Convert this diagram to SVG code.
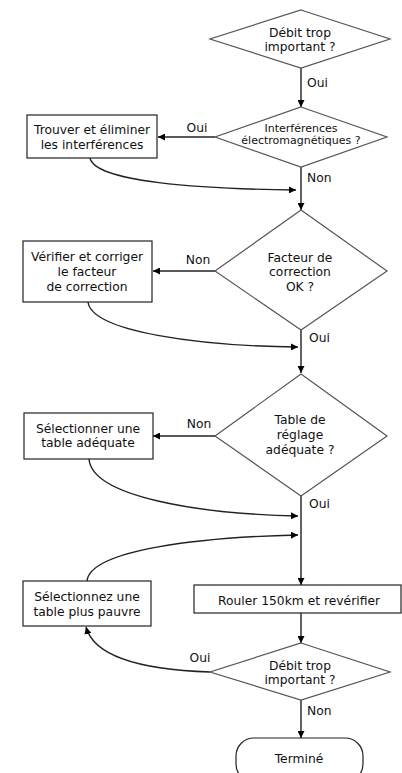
<svg xmlns="http://www.w3.org/2000/svg" width="402" height="773" viewBox="0 0 402 773">
<style>
text{font-family:"DejaVu Sans","Liberation Sans",sans-serif;font-size:12.3px;fill:#111;text-anchor:middle}
.lbl{text-anchor:start}
.c{text-anchor:middle}
.small{font-size:11px}
.box{fill:#fff;stroke:#222;stroke-width:1.2}
.dia{fill:#fff;stroke:#555;stroke-width:1.2}
.ln{fill:none;stroke:#222;stroke-width:1.4}
</style>
<defs>
<marker id="ah" viewBox="0 0 10 10" refX="10" refY="5" markerWidth="7" markerHeight="7" markerUnits="userSpaceOnUse" orient="auto">
<path d="M0,0 L10,5 L0,10 z" fill="#000"/>
</marker>
</defs>
<rect width="402" height="773" fill="#fff"/>
<g id="connectors">
<path class="ln" d="M301,68 V107" marker-end="url(#ah)"/>
<path class="ln" d="M215,137 H158" marker-end="url(#ah)"/>
<path class="ln" d="M301,167 V210" marker-end="url(#ah)"/>
<path class="ln" d="M90,158 C95,182 200,189 296,190" marker-end="url(#ah)"/>
<path class="ln" d="M215,271 H153" marker-end="url(#ah)"/>
<path class="ln" d="M301,330 V373" marker-end="url(#ah)"/>
<path class="ln" d="M88,302 C92,332 200,346 298,347" marker-end="url(#ah)"/>
<path class="ln" d="M215,436 H153" marker-end="url(#ah)"/>
<path class="ln" d="M301,496 V585" marker-end="url(#ah)"/>
<path class="ln" d="M89,459 C92,497 200,514 298,516" marker-end="url(#ah)"/>
<path class="ln" d="M87,581 C90,550 200,537 298,535" marker-end="url(#ah)"/>
<path class="ln" d="M301,613 V643" marker-end="url(#ah)"/>
<path class="ln" d="M210,672 C150,670 95,660 86,627" marker-end="url(#ah)"/>
<path class="ln" d="M301,700 V738" marker-end="url(#ah)"/>
<text class="lbl" x="307" y="87">Oui</text>
<text class="c" x="197" y="132">Oui</text>
<text class="lbl" x="307" y="182">Non</text>
<text class="c" x="198" y="264">Non</text>
<text class="lbl" x="309" y="342">Oui</text>
<text class="c" x="199" y="428">Non</text>
<text class="lbl" x="309" y="508">Oui</text>
<text class="c" x="200" y="662">Oui</text>
<text class="lbl" x="307" y="715">Non</text>
</g>
<g id="d1">
<polygon class="dia" points="301,10 390,39 301,68 210,39"/>
<text x="300" y="37">Débit trop</text>
<text x="300" y="51">important ?</text>
</g>
<g id="d2">
<polygon class="dia" points="301,107 387,137 301,167 215,137"/>
<text class="small" x="301" y="132">Interférences</text>
<text class="small" x="301" y="144">électromagnétiques ?</text>
</g>
<g id="b1">
<rect class="box" x="27" y="115" width="130" height="43"/>
<text x="92" y="134">Trouver et éliminer</text>
<text x="92" y="149">les interférences</text>
</g>
<g id="d3">
<polygon class="dia" points="301,210 387,271 301,330 215,271"/>
<text x="300" y="262">Facteur de</text>
<text x="300" y="276">correction</text>
<text x="300" y="291">OK ?</text>
</g>
<g id="b2">
<rect class="box" x="23" y="241" width="129" height="61"/>
<text x="87" y="261">Vérifier et corriger</text>
<text x="87" y="276">le facteur</text>
<text x="87" y="291">de correction</text>
</g>
<g id="d4">
<polygon class="dia" points="301,374 387,436 301,496 215,436"/>
<text x="300" y="424">Table de</text>
<text x="300" y="439">réglage</text>
<text x="300" y="454">adéquate ?</text>
</g>
<g id="b3">
<rect class="box" x="24" y="413" width="129" height="46"/>
<text x="88" y="433">Sélectionner une</text>
<text x="88" y="447">table adéquate</text>
</g>
<g id="b4">
<rect class="box" x="23" y="581" width="128" height="45"/>
<text x="87" y="601">Sélectionnez une</text>
<text x="87" y="616">table plus pauvre</text>
</g>
<g id="b5">
<rect class="box" x="194" y="585" width="207" height="28"/>
<text x="299" y="605">Rouler 150km et revérifier</text>
</g>
<g id="d5">
<polygon class="dia" points="301,643 390,672 301,700 210,672"/>
<text x="300" y="670">Débit trop</text>
<text x="300" y="684">important ?</text>
</g>
<g id="end">
<rect class="box" x="236" y="738" width="127" height="44" rx="18" ry="18"/>
<text x="299" y="763">Terminé</text>
</g>
</svg>
